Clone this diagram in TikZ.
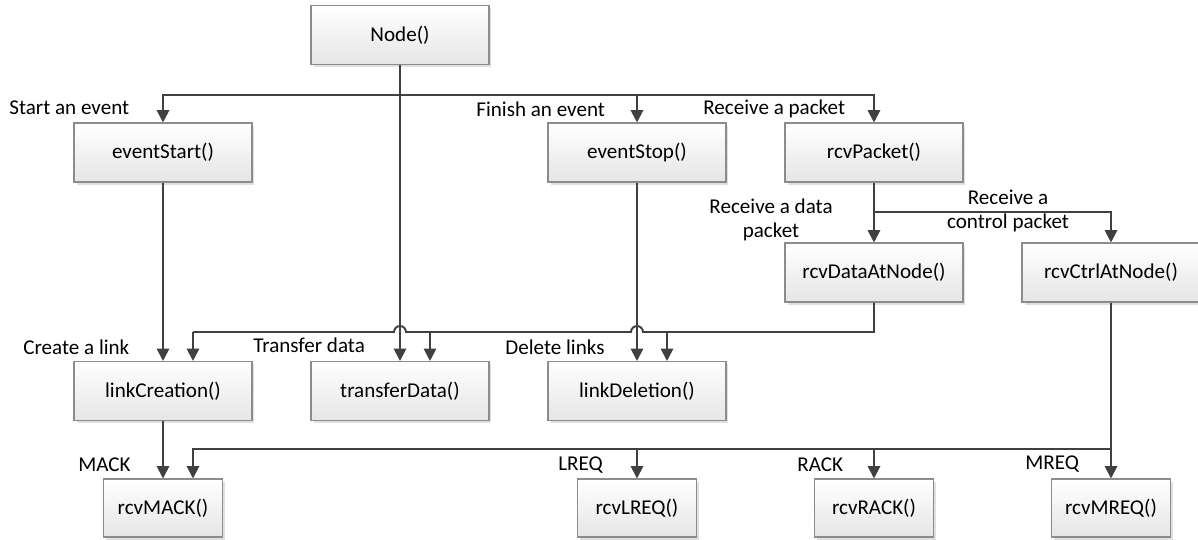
\documentclass[tikz,border=0pt]{standalone}
\usepackage{fontspec}
\setmainfont{Carlito}
\usetikzlibrary{arrows.meta,shadows}
\definecolor{linegray}{HTML}{404040}
\definecolor{boxgray}{HTML}{8C8C8C}
\tikzset{
  func/.style={draw=boxgray, line width=0.6pt, top color=white, bottom color=black!10,
    minimum width=3.56cm, minimum height=1.18cm, inner sep=0pt,
    drop shadow={shadow xshift=0.05cm, shadow yshift=-0.05cm, fill=black!20, opacity=0.6}},
  msg/.style={func, minimum width=2.38cm, minimum height=1.16cm},
  flow/.style={draw=linegray, line width=1.1pt, -{Triangle[length=7pt,width=7pt]}},
  wire/.style={draw=linegray, line width=1.1pt},
  lbl/.style={anchor=west, inner sep=0pt},
}
\begin{document}
\begin{tikzpicture}[x=0.02cm, y=-0.02cm, font=\fontsize{12}{14}\selectfont]
            \useasboundingbox (0,0) rectangle (1198,539);
            \node[func] (node) at (400,35) {Node()};
            \node[func] (evstart) at (163,152.5) {eventStart()};
            \node[func] (evstop) at (637,152.5) {eventStop()};
            \node[func] (rcvpkt) at (874,152.5) {rcvPacket()};
            \node[func] (rcvdata) at (874,272.5) {rcvDataAtNode()};
            \node[func] (rcvctrl) at (1111,272.5) {rcvCtrlAtNode()};
            \node[func] (linkcre) at (163,391) {linkCreation()};
            \node[func] (transfer) at (400,391) {transferData()};
            \node[func] (linkdel) at (637,391) {linkDeletion()};
            \node[msg] (rcvmack) at (163,508) {rcvMACK()};
            \node[msg] (rcvlreq) at (637,508) {rcvLREQ()};
            \node[msg] (rcvrack) at (874,508) {rcvRACK()};
            \node[msg] (rcvmreq) at (1111,508) {rcvMREQ()};
            \coordinate (topbus) at (400,95);
            \coordinate (split) at (874,212);
            \coordinate (midbus) at (874,332);
            \coordinate (lowbus) at (1111,449);
            \draw[flow] (topbus) -| (evstart);
            \draw[flow] (topbus) -| (evstop);
            \draw[flow] (topbus) -| (rcvpkt);
            \draw[flow] (node) -- (transfer);
            \draw[flow] (evstart) -- (linkcre);
            \draw[flow] (evstop) -- (linkdel);
            \draw[flow] (rcvpkt) -- (rcvdata);
            \draw[flow] (split) -| (rcvctrl);
            \draw[wire] (rcvdata) -- (midbus) -- (643,332) arc (0:-180:6) -- (406,332) arc (0:-180:6) -- (193,332);
            \draw[flow] (193,332) -- ([xshift=0.6cm]linkcre.north);
            \draw[flow] (430,332) -- ([xshift=0.6cm]transfer.north);
            \draw[flow] (667,332) -- ([xshift=0.6cm]linkdel.north);
            \draw[flow] (linkcre) -- (rcvmack);
            \draw[flow] (rcvctrl) -- (rcvmreq);
            \draw[flow] (lowbus) -| ([xshift=0.6cm]rcvmack.north);
            \draw[flow] (lowbus) -| (rcvlreq);
            \draw[flow] (lowbus) -| (rcvrack);
            \node[lbl] at (9,108) {Start an event};
            \node[lbl] at (476,109) {Finish an event};
            \node[lbl] at (703,109) {Receive a packet};
            \node[align=center, inner sep=0pt] at (771,220) {Receive a data\\packet};
            \node[align=center, inner sep=0pt] at (1008,211) {Receive a\\control packet};
            \node[lbl] at (23,347) {Create a link};
            \node[lbl] at (253,345) {Transfer data};
            \node[lbl] at (505,347) {Delete links};
            \node[lbl] at (78,465) {MACK};
            \node[lbl] at (558,465) {LREQ};
            \node[lbl] at (797,465) {RACK};
            \node[lbl] at (1025,464) {MREQ};
            \end{tikzpicture}
\end{document}
